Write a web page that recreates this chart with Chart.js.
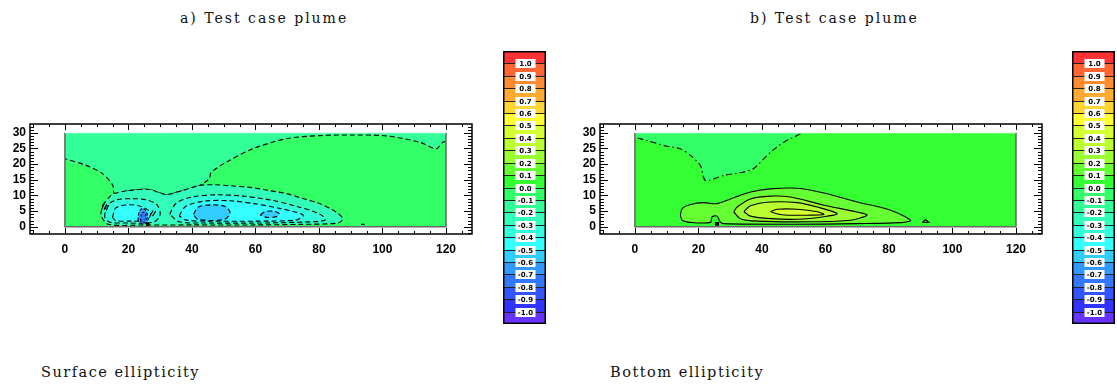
<!DOCTYPE html>
<html>
<head>
<meta charset="utf-8">
<script src="https://cdn.jsdelivr.net/npm/chart.js@4.4.0/dist/chart.umd.min.js"></script>
<style>
  html, body { margin: 0; padding: 0; background: #fff; }
  body { width: 1117px; height: 385px; position: relative; overflow: hidden; }
  .holder { position: absolute; }
  .label { position: absolute; font-family: "DejaVu Serif", serif; color: #111; white-space: nowrap; line-height: 16px; }
</style>
</head>
<body>
<div class="label" style="left:180px; top:10px; font-size:14px; letter-spacing:2px;">a) Test case plume</div>
<div class="label" style="left:750px; top:10px; font-size:14px; letter-spacing:2px;">b) Test case plume</div>
<div class="label" style="left:41px; top:364px; font-size:14.5px; letter-spacing:1.5px;">Surface ellipticity</div>
<div class="label" style="left:610px; top:364px; font-size:14.5px; letter-spacing:1.5px;">Bottom ellipticity</div>

<div class="holder" style="left:0px; top:0px;"><canvas id="surface" width="490" height="262"></canvas></div>
<div class="holder" style="left:570px; top:0px;"><canvas id="bottom" width="490" height="262"></canvas></div>
<div class="holder" style="left:503px; top:51px;"><canvas id="barA" width="43" height="273"></canvas></div>
<div class="holder" style="left:1072px; top:51px;"><canvas id="barB" width="43" height="273"></canvas></div>

<script>
// ---- axis ticks ----
const xTicks = [0, 20, 40, 60, 80, 100, 120];
const yTicks = [0, 5, 10, 15, 20, 25, 30];

// ---- colour scale: band edges (top to bottom) and band colours ----
const bandEdges = [1.1, 1.0, 0.9, 0.8, 0.7, 0.6, 0.5, 0.4, 0.3, 0.2, 0.1, 0.0,
                   -0.1, -0.2, -0.3, -0.4, -0.5, -0.6, -0.7, -0.8, -0.9, -1.0, -1.1];
const bandColors = ['#ff3333', '#ff6633', '#ff8c33', '#ffaa33', '#ffd633', '#ffff33',
                    '#d6ff33', '#bbff33', '#99ff33', '#66ff33', '#33ff33',
                    '#33ff66', '#33ff99', '#33ffbb', '#33ffdd', '#33ffff',
                    '#33ccff', '#3399ff', '#3377ff', '#3355ff', '#3333ff', '#6633ff'];
const barLabels = ['1.0', '0.9', '0.8', '0.7', '0.6', '0.5', '0.4', '0.3', '0.2', '0.1', '0.0',
                   '-0.1', '-0.2', '-0.3', '-0.4', '-0.5', '-0.6', '-0.7', '-0.8', '-0.9', '-1.0'];

// ---- surface ellipticity field: level regions as [distance, depth] outlines ----
const fieldBox = [[0, 0], [120, 0], [120, 30], [0, 30], [0, 0]];
const surfBackground = -0.05;
const surfUpperLevel = -0.15;
const surfUpper = [[0, 30], [120, 30], [120, 27.2], [119, 27], [116.9, 24.9], [111.7, 27], [101.2, 29],
  [90.6, 29.3], [80.2, 29.1], [69.7, 28.1], [59.2, 24.9], [50.8, 20.6], [46, 17.3], [45.5, 15.4],
  [42.4, 13.2], [37.1, 11.6], [31.9, 10.3], [26.6, 11.9], [20.3, 11.6], [15.6, 10.6], [15.1, 13.2],
  [11.9, 16.9], [6.7, 19.6], [0, 21.7], [0, 30]];
const surfUpperEdge = [[120, 27.2], [119, 27], [116.9, 24.9], [111.7, 27], [101.2, 29],
  [90.6, 29.3], [80.2, 29.1], [69.7, 28.1], [59.2, 24.9], [50.8, 20.6], [46, 17.3], [45.5, 15.4],
  [42.4, 13.2], [37.1, 11.6], [31.9, 10.3], [26.6, 11.9], [20.3, 11.6], [15.6, 10.6], [15.1, 13.2],
  [11.9, 16.9], [6.7, 19.6], [0, 21.7]];
const surfPlumeLevel = -0.25;
const surfPlume = [[11.9, 6.9], [14, 9.5], [15.6, 10.6], [20.3, 11.6], [26.6, 11.9], [31.9, 10.3],
  [37.1, 11.6], [42.4, 13.2], [47, 13.4], [53, 13], [59, 12.5], [64, 11.6], [69.7, 10.6], [75, 9],
  [80.2, 7.4], [85.4, 4.7], [87.5, 2.6], [86, 1.2], [75, 0.8], [60, 0.6], [40, 0.6], [25, 0.6],
  [13.6, 0.8], [11.4, 3.7], [11.9, 6.9]];
const surfLobeLevel = -0.35;
const surfLobeWest = [[12.5, 3], [13, 6.5], [16, 8.5], [21, 9], [26, 8.5], [29, 7], [30, 4], [28, 1.5],
  [20, 1.2], [14, 1.5], [12.5, 3]];
const surfLobeEast = [[33, 4], [35, 7.5], [40, 9.5], [48, 10.2], [56, 9.8], [65, 8.5], [73, 6.5],
  [80, 4.2], [82, 2.2], [75, 1.5], [60, 1.2], [45, 1.2], [36, 1.6], [33, 4]];
const surfInnerLevel = -0.45;
const surfInnerWest = [[15, 3], [16, 6], [20, 7], [24, 6.5], [27, 4.5], [26, 2.2], [20, 1.8], [16, 2], [15, 3]];
const surfInnerEast = [[36, 3.5], [38, 6.5], [44, 8.2], [52, 8.3], [60, 7.3], [68, 5.8], [75, 3.8],
  [73, 2.2], [60, 1.8], [45, 1.8], [38, 2.2], [36, 3.5]];
const surfCoreLevel = -0.55;
const surfCore = [[40.5, 4], [42, 6.3], [46.5, 7], [50.5, 6.5], [52, 4.5], [50.5, 2.5], [46, 2],
  [41.5, 2.6], [40.5, 4]];
const surfSpot = [[61.5, 3.8], [63, 4.8], [65.5, 5], [67.5, 4.2], [66.5, 3.2], [63.5, 3], [61.5, 3.8]];
const surfJetLevel = -0.65;
const surfJet = [[23, 2], [23.4, 4.8], [24.4, 5.9], [25.6, 5], [26.2, 2.5], [25.6, 1.1], [24, 1.1], [23, 2]];
const surfJetCoreLevel = -0.75;
const surfJetCore = [[23.8, 2], [24.2, 4.2], [25, 4.6], [25.6, 3], [25.2, 1.5], [24.2, 1.5], [23.8, 2]];
const surfSource = [[25.5, 0.3], [26.6, 0.3], [26.6, 1.4], [25.5, 1.4], [25.5, 0.3]];
const surfSpeck = [[93.3, 0.6], [94.4, 0.6], [94.4, 1.0], [93.3, 1.0], [93.3, 0.6]];
const surfTicksWest = [[[11.6, 5.6], [12.4, 7.4]], [[12.3, 5.4], [13.1, 7.2]], [[13.0, 5.2], [13.8, 7.0]]];
const surfTicksEast = [[[26.8, 3.6], [27.8, 5.2]], [[27.6, 3.4], [28.6, 5.0]]];

// ---- bottom ellipticity field ----
const botBackground = 0.05;
const botUpperLevel = -0.05;
const botUpper = [[0, 30], [52.5, 30], [52.1, 29.6], [46.9, 27], [42.7, 23.8], [37.4, 18.6], [34.3, 17.5],
  [28, 16.4], [22.2, 14.8], [20.6, 19.6], [17.5, 22.8], [14.3, 24.9], [10.1, 25.7], [3.8, 27.5],
  [0, 28.6], [0, 30]];
const botUpperEdge = [[52.1, 29.6], [46.9, 27], [42.7, 23.8], [37.4, 18.6], [34.3, 17.5],
  [28, 16.4], [22.2, 14.8], [20.6, 19.6], [17.5, 22.8], [14.3, 24.9], [10.1, 25.7], [3.8, 27.5], [0, 28.6]];
const botPlumeLevel = 0.15;
const botPlume = [[14.3, 3.7], [14.9, 5.8], [17.5, 7.1], [21.7, 7.7], [25.9, 7.4], [30.1, 8.9], [36.4, 11.1],
  [42.7, 12.1], [51.1, 12.3], [59.5, 10.8], [70, 7.9], [80.5, 5.3], [86.8, 2.1], [84.7, 1.4], [70, 1.0],
  [49, 0.8], [28, 1.0], [26.9, 1.5], [25.9, 3.4], [24.3, 3.2], [23.8, 1.4], [17.5, 1.4], [14.9, 2.1], [14.3, 3.7]];
const botRingLevel = 0.25;
const botRing = [[31.1, 4.8], [32.2, 6.3], [36.4, 8.9], [42.7, 9.8], [49, 9.5], [59.5, 6.9], [70, 4.7],
  [73.1, 3.7], [67.9, 2.1], [55.3, 1.6], [38.5, 1.8], [33.2, 2.6], [31.1, 4.8]];
const botInnerLevel = 0.35;
const botInner = [[34.3, 4.8], [36.4, 6.7], [42.7, 7.9], [51.1, 7.7], [57.4, 6.3], [63.7, 4.2], [59.5, 3.2],
  [51.1, 2.4], [42.7, 2.6], [36.4, 3.4], [34.3, 4.8]];
const botCoreLevel = 0.45;
const botCore = [[42.7, 4.8], [44.8, 5.6], [51.1, 5.6], [57.4, 4.8], [59.5, 3.9], [54.2, 3.7], [49, 3.7],
  [45.8, 3.9], [42.7, 4.8]];
const botSource = [[25.2, 0.3], [26.5, 0.3], [26.5, 1.5], [25.2, 1.5], [25.2, 0.3]];
const botSpeck = [[90.5, 1.4], [92.6, 1.4], [91.5, 2.3], [90.5, 1.4]];

// ---- helpers ----
function bandColor(v) {
  for (let i = 0; i < bandColors.length; i++) {
    if (v <= bandEdges[i] && v > bandEdges[i + 1]) return bandColors[i];
  }
  return v > 0 ? bandColors[0] : bandColors[bandColors.length - 1];
}
const DASH = [5, 3];
const DASHDOT = [6, 3, 1.5, 3];

// a filled level region, optionally outlined
function region(pts, level, dash, tension) {
  return { pts, fill: bandColor(level), line: dash === undefined ? null : dash, tension: tension ?? 0.3 };
}
// an outline only
function contour(pts, dash, tension, width) {
  return { pts, fill: null, line: dash, tension: tension ?? 0.3, width };
}
function solid(pts, color) {
  return { pts, fill: color, line: null, tension: 0 };
}

const surfaceLayers = [
  region(fieldBox, surfBackground, undefined, 0),
  region(surfUpper, surfUpperLevel, undefined, 0.3),
  contour(surfUpperEdge, DASH),
  region(surfPlume, surfPlumeLevel, DASH),
  region(surfLobeWest, surfLobeLevel, DASH),
  region(surfLobeEast, surfLobeLevel, DASH),
  region(surfInnerWest, surfInnerLevel, DASH),
  region(surfInnerEast, surfInnerLevel, DASH),
  region(surfCore, surfCoreLevel, DASH),
  region(surfSpot, surfCoreLevel, DASH),
  region(surfJet, surfJetLevel, [3, 2]),
  region(surfJetCore, surfJetCoreLevel, [2, 2]),
  solid(surfSource, '#000'),
  solid(surfSpeck, '#000'),
  ...surfTicksWest.map(s => contour(s, [], 0)),
  ...surfTicksEast.map(s => contour(s, [], 0))
];

const bottomLayers = [
  region(fieldBox, botBackground, undefined, 0),
  region(botUpper, botUpperLevel, undefined, 0.25),
  contour(botUpperEdge, DASHDOT, 0.25),
  region(botPlume, botPlumeLevel, []),
  region(botRing, botRingLevel, []),
  region(botInner, botInnerLevel, []),
  region(botCore, botCoreLevel, []),
  solid(botSource, '#000'),
  contour(botSpeck, [], 0)
];

// clip the field to its box and draw the frame, axis box and ticks
const fieldFrame = {
  id: 'fieldFrame',
  beforeDatasetsDraw(chart) {
    const { ctx, scales: { x, y } } = chart;
    ctx.save();
    ctx.beginPath();
    ctx.rect(x.getPixelForValue(0), y.getPixelForValue(30),
             x.getPixelForValue(120) - x.getPixelForValue(0),
             y.getPixelForValue(0) - y.getPixelForValue(30));
    ctx.clip();
  },
  afterDatasetsDraw(chart) {
    const { ctx, chartArea: a, scales: { x, y } } = chart;
    ctx.restore();
    ctx.save();
    // frame of the field
    const x0 = x.getPixelForValue(0), x1 = x.getPixelForValue(120);
    const y0 = y.getPixelForValue(0), y1 = y.getPixelForValue(30);
    ctx.strokeStyle = '#6a6a6a';
    ctx.lineWidth = 1.6;
    ctx.beginPath();
    ctx.moveTo(x0, y1); ctx.lineTo(x0, y0); ctx.lineTo(x1, y0); ctx.lineTo(x1, y1);
    ctx.stroke();
    ctx.strokeStyle = '#e8fff0';
    ctx.lineWidth = 1;
    ctx.beginPath(); ctx.moveTo(x0, y1); ctx.lineTo(x1, y1); ctx.stroke();
    // axis box
    ctx.strokeStyle = '#000';
    ctx.lineWidth = 1.5;
    ctx.strokeRect(a.left, a.top, a.right - a.left, a.bottom - a.top);
    ctx.lineWidth = 1;
    ctx.beginPath();
    for (let v = -10; v <= 125; v += 5) {
      const px = Math.round(x.getPixelForValue(v)) + 0.5;
      const len = v % 20 === 0 ? 6 : 3;
      ctx.moveTo(px, a.bottom); ctx.lineTo(px, a.bottom - len);
      ctx.moveTo(px, a.top); ctx.lineTo(px, a.top + len);
    }
    for (let v = -2; v <= 32; v += 1) {
      const py = Math.round(y.getPixelForValue(v)) + 0.5;
      const len = v % 5 === 0 ? 8 : 4;
      ctx.moveTo(a.left, py); ctx.lineTo(a.left + len, py);
      ctx.moveTo(a.right, py); ctx.lineTo(a.right - len, py);
    }
    ctx.stroke();
    ctx.restore();
  }
};

function fieldChart(canvasId, layers) {
  const datasets = layers.map((L, i) => ({
    data: L.pts.map(p => ({ x: p[0], y: p[1] })),
    showLine: true,
    fill: L.fill ? 'shape' : false,
    backgroundColor: L.fill || 'rgba(0,0,0,0)',
    borderColor: L.line === null ? 'rgba(0,0,0,0)' : '#000',
    borderWidth: L.line === null ? 0 : (L.width || 1.1),
    borderDash: L.line || [],
    tension: L.tension,
    pointRadius: 0,
    order: layers.length - i
  }));
  return new Chart(document.getElementById(canvasId), {
    type: 'scatter',
    data: { datasets },
    options: {
      responsive: false,
      animation: false,
      events: [],
      layout: { padding: { top: 124, right: 18, left: 0, bottom: 0 } },
      plugins: { legend: { display: false }, tooltip: { enabled: false } },
      scales: {
        x: {
          type: 'linear', min: -11, max: 128.2,
          afterBuildTicks: s => { s.ticks = xTicks.map(v => ({ value: v })); },
          afterFit: s => { s.height = 28; },
          grid: { display: false, drawTicks: false },
          border: { display: false },
          ticks: {
            autoSkip: false, maxRotation: 0, padding: 8, color: '#000',
            font: { family: 'Liberation Sans', weight: 'bold', size: 12 },
            callback: v => String(v)
          }
        },
        y: {
          type: 'linear', min: -2.3, max: 32.8,
          afterBuildTicks: s => { s.ticks = yTicks.map(v => ({ value: v })); },
          afterFit: s => { s.width = 30; },
          grid: { display: false, drawTicks: false },
          border: { display: false },
          ticks: {
            autoSkip: false, padding: 4, color: '#000',
            font: { family: 'Liberation Sans', weight: 'bold', size: 12 },
            callback: v => String(v)
          }
        }
      }
    },
    plugins: [fieldFrame]
  });
}

// colour bar: separating lines, boxed labels and outline
const barDecor = {
  id: 'barDecor',
  afterDatasetsDraw(chart) {
    const { ctx, chartArea: a, scales: { y } } = chart;
    const cx = (a.left + a.right) / 2 + 1;
    ctx.save();
    barLabels.forEach(t => {
      const py = Math.round(y.getPixelForValue(parseFloat(t))) + 0.5;
      ctx.strokeStyle = '#222';
      ctx.lineWidth = 1.2;
      ctx.beginPath(); ctx.moveTo(a.left, py); ctx.lineTo(a.right, py); ctx.stroke();
      ctx.fillStyle = '#fff';
      ctx.fillRect(cx - 10, py - 4.5, 20, 9);
      ctx.fillStyle = '#000';
      ctx.font = 'bold 7px "DejaVu Sans"';
      ctx.textAlign = 'center';
      ctx.textBaseline = 'middle';
      ctx.fillText(t, cx, py + 0.5);
    });
    ctx.strokeStyle = '#000';
    ctx.lineWidth = 1.5;
    ctx.strokeRect(a.left + 0.75, a.top + 0.75, a.right - a.left - 1.5, a.bottom - a.top - 1.5);
    ctx.restore();
  }
};

function colourBar(canvasId) {
  const datasets = bandColors.map((c, i) => ({
    data: [[bandEdges[i + 1], bandEdges[i]]],
    backgroundColor: c,
    borderWidth: 0,
    barPercentage: 1,
    categoryPercentage: 1,
    grouped: false
  }));
  return new Chart(document.getElementById(canvasId), {
    type: 'bar',
    data: { labels: ['ellipticity'], datasets },
    options: {
      responsive: false,
      animation: false,
      events: [],
      layout: { padding: 0 },
      plugins: { legend: { display: false }, tooltip: { enabled: false } },
      scales: {
        x: { display: false },
        y: { display: false, min: -1.1, max: 1.1 }
      }
    },
    plugins: [barDecor]
  });
}

fieldChart('surface', surfaceLayers);
fieldChart('bottom', bottomLayers);
colourBar('barA');
colourBar('barB');
</script>
</body>
</html>
